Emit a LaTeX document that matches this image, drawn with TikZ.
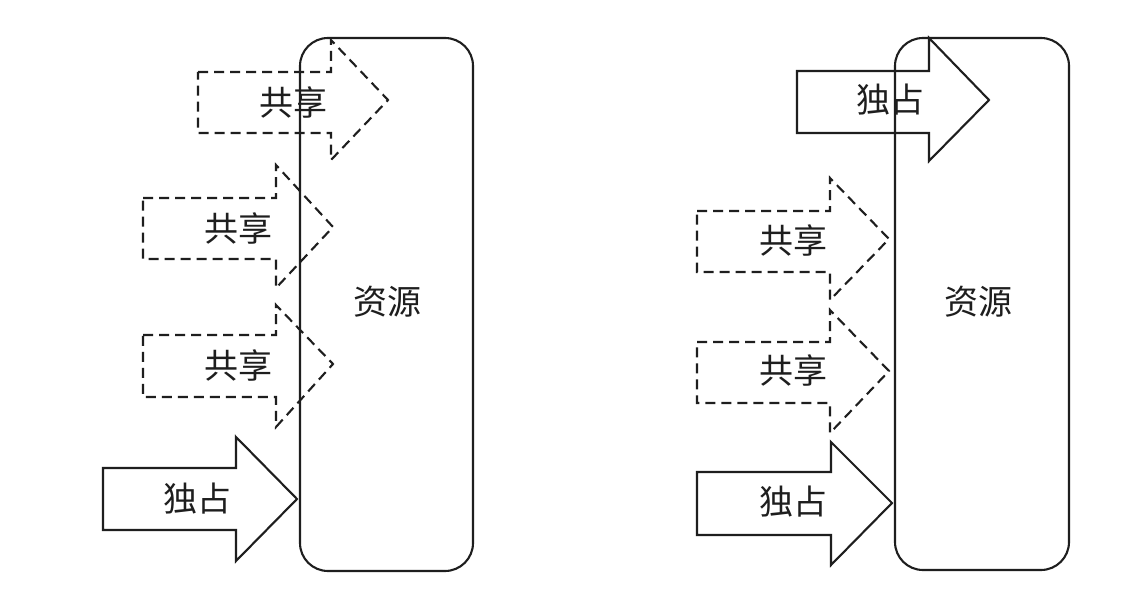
\documentclass[tikz,border=0pt]{standalone}
\usepackage{fontspec}
\newfontfamily\cjk{Noto Sans CJK SC}
\definecolor{ink}{RGB}{30,30,30}
\begin{document}
\begin{tikzpicture}[x=1pt,y=-1pt,
  solidarrow/.style={draw=ink,line width=2.1pt,line join=miter},
  dasharrow/.style={draw=ink,line width=2.1pt,dash pattern=on 10pt off 6pt},
  resbox/.style={draw=ink,line width=2.1pt,rounded corners=28pt},
  lbl/.style={text=ink,font=\cjk\fontsize{34}{36}\selectfont,inner sep=0pt}]
\useasboundingbox (0,0) rectangle (1127,594);
\fill[white] (0,0) rectangle (1127,594);
% ---------- left panel ----------
\draw[resbox] (300,38) rectangle (473,571);
\node[lbl] (resL) at (387,302) {资源};
\draw[dasharrow] (198,72) -- (331,72) -- (331,40) -- (388,100) -- (331,160) -- (331,133) -- (198,133) -- cycle;
\node[lbl] (sL1) at (293,102) {共享};
\draw[dasharrow] (143,198) -- (276,198) -- (276,165) -- (333,227) -- (276,288) -- (276,259) -- (143,259) -- cycle;
\node[lbl] (sL2) at (238,228) {共享};
\draw[dasharrow] (143,335) -- (276,335) -- (276,305) -- (333,364) -- (276,427) -- (276,397) -- (143,397) -- cycle;
\node[lbl] (sL3) at (238,365) {共享};
\draw[solidarrow] (103,468) -- (236,468) -- (236,437) -- (297,499) -- (236,561) -- (236,530) -- (103,530) -- cycle;
\node[lbl] (xL) at (197,499) {独占};
% ---------- right panel ----------
\draw[resbox] (895,38) rectangle (1069,570);
\node[lbl] (resR) at (978,302) {资源};
\draw[solidarrow] (797,71) -- (929,71) -- (929,38) -- (989,100) -- (929,161) -- (929,133) -- (797,133) -- cycle;
\node[lbl] (xR1) at (890,100) {独占};
\draw[dasharrow] (697,211) -- (830,211) -- (830,178) -- (889,239) -- (830,300) -- (830,272) -- (697,272) -- cycle;
\node[lbl] (sR1) at (793,240) {共享};
\draw[dasharrow] (697,342) -- (830,342) -- (830,310) -- (889,371) -- (830,433) -- (830,403) -- (697,403) -- cycle;
\node[lbl] (sR2) at (793,370) {共享};
\draw[solidarrow] (697,472) -- (831,472) -- (831,442) -- (892,503) -- (831,565) -- (831,535) -- (697,535) -- cycle;
\node[lbl] (xR2) at (793,502) {独占};
\end{tikzpicture}
\end{document}
